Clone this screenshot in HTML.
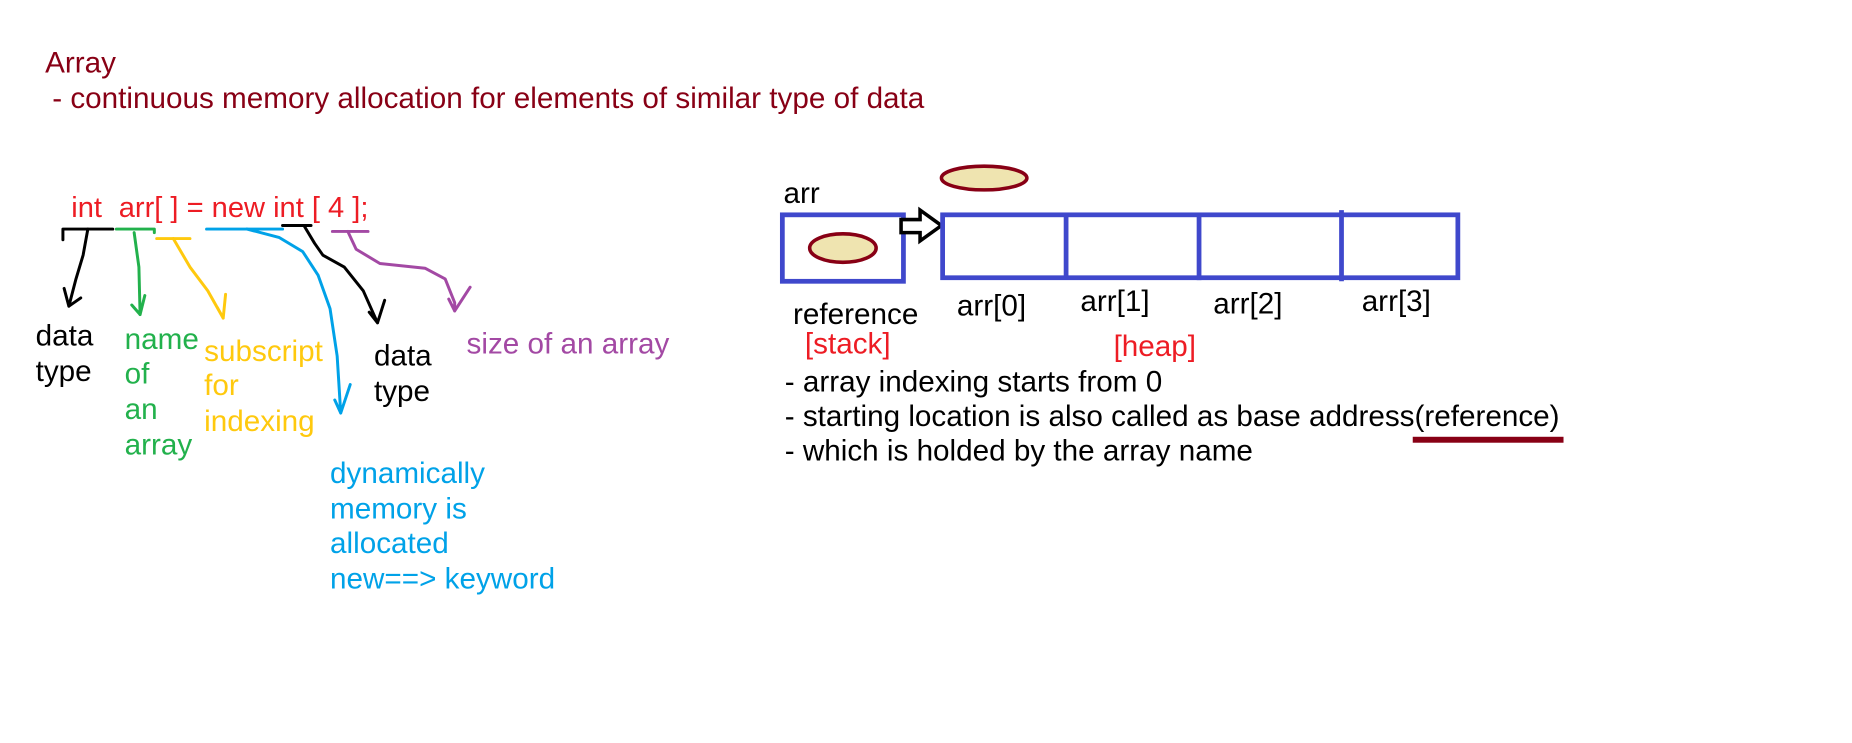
<!DOCTYPE html>
<html><head><meta charset="utf-8"><style>
html,body{margin:0;padding:0;background:#fff;}
svg{display:block}
text{font-family:"Liberation Sans",Arial,sans-serif;font-size:25px}
</style></head><body>
<svg width="1852" height="743" viewBox="0 0 1560 626" preserveAspectRatio="none" xmlns="http://www.w3.org/2000/svg">
<rect width="1560" height="626" fill="#fff"/>
<text x="38" y="61" fill="#880015">Array</text>
<text x="44" y="91" fill="#880015">- continuous memory allocation for elements of similar type of data</text>

<text x="60" y="183" fill="#ed1c24" style="font-size:24.5px">int</text>
<text x="100" y="183" fill="#ed1c24" style="font-size:24.5px">arr[ ] = new int [ 4 ];</text>

<g fill="none" stroke-width="2.5" stroke-linecap="round" stroke-linejoin="round">
<path d="M53 202 V193 H95" stroke="#000"/>
<path d="M74 193 L70 215 L64 235 L58 258 M58 258 L54 243 M58 258 L68 251" stroke="#000"/>
<path d="M98 193 H130 V196" stroke="#22b14c"/>
<path d="M113 196 L117 225 L118 265 M118 265 L111 257 M118 265 L122 249" stroke="#22b14c"/>
<path d="M132 201 H160" stroke="#ffc90e"/>
<path d="M146 201 L160 225 L175 245 L188 268 M188 268 L183 259 M188 268 L190 248" stroke="#ffc90e"/>
<path d="M174 193 H238" stroke="#00a2e8"/>
<path d="M208 193 L235 200 L255 212 L268 232 L278 260 L284 300 L287 348 M287 348 L282 337 M287 348 L295 324" stroke="#00a2e8"/>
<path d="M238 190 H262" stroke="#000"/>
<path d="M256 190 L265 205 L272 215 L290 225 L306 245 L318 272 M318 272 L311 263 M318 272 L324 253" stroke="#000"/>
<path d="M280 195 H310" stroke="#a349a4"/>
<path d="M293 195 L300 210 L320 222 L358 226 L375 235 L383 255 L383 262 M383 262 L378 252 M383 262 L396 242" stroke="#a349a4"/>
</g>

<text x="30" y="291" fill="#000">data</text>
<text x="30" y="321" fill="#000">type</text>
<text x="105" y="294" fill="#22b14c">name</text>
<text x="105" y="323" fill="#22b14c">of</text>
<text x="105" y="353" fill="#22b14c">an</text>
<text x="105" y="383" fill="#22b14c">array</text>
<text x="172" y="304" fill="#ffc90e">subscript</text>
<text x="172" y="333" fill="#ffc90e">for</text>
<text x="172" y="363" fill="#ffc90e">indexing</text>
<text x="315" y="308" fill="#000">data</text>
<text x="315" y="338" fill="#000">type</text>
<text x="393" y="298" fill="#a349a4">size of an array</text>
<text x="278" y="407" fill="#00a2e8">dynamically</text>
<text x="278" y="437" fill="#00a2e8">memory is</text>
<text x="278" y="466" fill="#00a2e8">allocated</text>
<text x="278" y="496" fill="#00a2e8">new==&gt; keyword</text>

<text x="660" y="171" fill="#000">arr</text>
<rect x="659" y="181" width="102" height="56" fill="none" stroke="#3f48cc" stroke-width="4"/>
<ellipse cx="710" cy="209" rx="28" ry="12" fill="#efe4b0" stroke="#880015" stroke-width="3"/>
<ellipse cx="829" cy="150" rx="36" ry="10" fill="#efe4b0" stroke="#880015" stroke-width="3"/>
<path d="M759 185 H775 V177 L793 190 L775 203 V196 H759 Z" fill="#fff" stroke="#000" stroke-width="3" stroke-linejoin="miter"/>
<rect x="794" y="181" width="434" height="53" fill="none" stroke="#3f48cc" stroke-width="4"/>
<path d="M898 181 V234 M1010 181 V236 M1130 177 V237" stroke="#3f48cc" stroke-width="4"/>
<text x="806" y="266" fill="#000">arr[0]</text>
<text x="910" y="262" fill="#000">arr[1]</text>
<text x="1022" y="264" fill="#000">arr[2]</text>
<text x="1147" y="262" fill="#000">arr[3]</text>
<text x="668" y="273" fill="#000">reference</text>
<text x="678" y="298" fill="#ed1c24">[stack]</text>
<text x="938" y="300" fill="#ed1c24">[heap]</text>
<text x="661" y="330" fill="#000">- array indexing starts from 0</text>
<text x="661" y="359" fill="#000">- starting location is also called as base address(reference)</text>
<text x="661" y="388" fill="#000">- which is holded by the array name</text>
<rect x="1190" y="368" width="127" height="5" fill="#880015"/>
</svg>
</body></html>
